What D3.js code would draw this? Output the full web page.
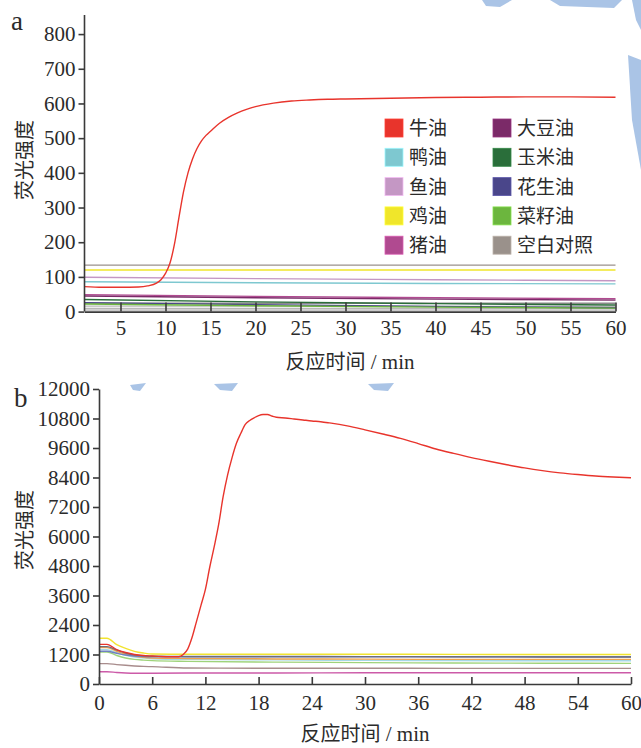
<!DOCTYPE html>
<html>
<head>
<meta charset="utf-8">
<script src="https://cdn.jsdelivr.net/npm/d3@7"></script>
<style>
  body { margin: 0; background: #fff; }
  svg text { fill: #2b2b2b; }
</style>
</head>
<body>
<svg id="chart" width="641" height="748"></svg>
<script>
// ---- data, panel a ----
const oilNames = ["牛油", "鸭油", "鱼油", "鸡油", "猪油", "大豆油", "玉米油", "花生油", "菜籽油", "空白对照"];
const oilColors = ["#e8342c", "#7ec8d0", "#c497c4", "#f0e62a", "#b04a90", "#7b2a68", "#2a6e3a", "#4a468a", "#6cb63e", "#9a918b"];

const aRedTime = [1, 3, 5, 7, 8, 9, 9.5, 10, 10.5, 11, 11.5, 12, 12.5, 13, 13.5, 14, 14.5, 15, 16, 17, 18, 19, 20, 22, 24, 26, 28, 30, 35, 40, 45, 50, 55, 60];
const aRed = [72, 70, 70, 71, 74, 82, 92, 110, 140, 195, 272, 345, 400, 440, 470, 492, 508, 520, 543, 560, 573, 583, 591, 601, 607, 610, 612, 613, 615, 617, 618, 619, 619, 618];

const aTime = [1, 20, 40, 60];
const aDuck = [86, 83, 81, 80];
const aFish = [99, 95, 92, 89];
const aChicken = [120, 120, 120, 120];
const aLard = [49, 44, 40, 37];
const aSoy = [45, 40, 36, 33];
const aCorn = [35, 28, 23, 19];
const aPeanut = [26, 20, 15, 11];
const aRape = [22, 17, 13, 10];
const aBlank = [134, 134, 134, 134];
// grey traces packed along the bottom of panel a
const aGreyLow = [[24, 24, 24, 24], [16, 16, 15, 15], [9, 9, 9, 9], [4, 4, 4, 4]];

const aTicksX = [5, 10, 15, 20, 25, 30, 35, 40, 45, 50, 55, 60];
const aTicksY = [0, 100, 200, 300, 400, 500, 600, 700, 800];

// ---- data, panel b ----
const bRedTime = [0, 0.9, 2, 3, 4, 5, 6, 7, 8, 9, 9.5, 10, 10.5, 11, 11.5, 12, 12.5, 13, 13.5, 14, 14.5, 15, 15.5, 16, 16.5, 17, 17.5, 18, 18.5, 19, 19.5, 20, 21, 22, 23, 24, 25, 26, 28, 30, 32, 34, 36, 38, 40, 42, 44, 46, 48, 50, 52, 54, 56, 58, 60];
const bRed = [1610, 1610, 1400, 1280, 1200, 1160, 1140, 1120, 1110, 1110, 1200, 1420, 1900, 2550, 3200, 3850, 4770, 5600, 6500, 7620, 8500, 9200, 9790, 10200, 10560, 10720, 10830, 10920, 10960, 10960, 10900, 10850, 10820, 10780, 10740, 10700, 10670, 10620, 10500, 10340, 10170, 9990, 9780, 9560, 9380, 9210, 9060, 8920, 8790, 8680, 8590, 8520, 8460, 8420, 8390];

const bTime = [0, 0.9, 2, 3, 4, 5, 6, 10, 20, 30, 40, 50, 60];
const bYellow = [1860, 1860, 1600, 1450, 1330, 1260, 1220, 1210, 1210, 1210, 1205, 1200, 1200];
const bSlate = [1520, 1520, 1380, 1260, 1180, 1150, 1130, 1120, 1120, 1115, 1110, 1100, 1100];
const bBlue = [1330, 1330, 1250, 1180, 1140, 1120, 1110, 1110, 1110, 1110, 1110, 1110, 1110];
const bOrange = [1480, 1480, 1330, 1220, 1140, 1090, 1060, 1040, 1020, 1010, 1000, 1000, 1000];
const bCyan = [1400, 1400, 1270, 1170, 1100, 1060, 1030, 1000, 980, 960, 950, 945, 945];
const bGreen = [1300, 1300, 1160, 1060, 1000, 970, 950, 920, 890, 870, 855, 845, 840];
const bBrown = [830, 830, 790, 760, 735, 715, 705, 650, 640, 640, 637, 637, 637];
const bMagenta = [500, 500, 470, 450, 440, 440, 440, 445, 450, 455, 458, 460, 460];
const bColors = ["#f2e430", "#6e6e7e", "#7080c0", "#f0a24e", "#a6d8e6", "#9fd37a", "#a88c8c", "#cc5aa8"];

const bTicksX = [0, 6, 12, 18, 24, 30, 36, 42, 48, 54, 60];
const bTicksY = [0, 1200, 2400, 3600, 4800, 6000, 7200, 8400, 9600, 10800, 12000];

const svg = d3.select("#chart");
const numFont = "'Liberation Serif', 'Times New Roman', serif";
const cjkFont = "'Noto Sans CJK SC', sans-serif";

// faint watermark swooshes from the scanned page
const wm = svg.append("g").attr("fill", "#aac4e6");
[
  [[482, 0], [512, 0], [500, 7], [486, 6]],
  [[550, 0], [622, 0], [614, 8], [560, 6]],
  [[628, 55], [641, 60], [641, 170], [632, 120]],
  [[632, 0], [641, 0], [641, 30], [636, 20]],
  [[130, 385], [146, 383], [140, 391], [133, 390]],
  [[214, 384], [238, 383], [232, 391], [220, 390]],
  [[368, 384], [394, 383], [388, 391], [374, 390]]
].forEach(p => wm.append("path").attr("d", d3.line()(p) + "Z"));

function xTitle(g, x, y) {
  const t = g.append("text").attr("x", x).attr("y", y).attr("text-anchor", "middle").attr("font-size", 20);
  t.append("tspan").attr("font-family", cjkFont).text("反应时间");
  t.append("tspan").attr("font-family", numFont).attr("font-size", 21).text(" / min");
}

function yTitle(g, x, y) {
  g.append("text")
    .attr("transform", `translate(${x},${y}) rotate(-90)`)
    .attr("text-anchor", "middle")
    .attr("font-family", cjkFont)
    .attr("font-size", 20)
    .text("荧光强度");
}

function styleAxis(ax) {
  ax.select(".domain").attr("stroke", "#3a3a3a").attr("stroke-width", 1.6);
  ax.selectAll(".tick line").attr("stroke", "#3a3a3a").attr("stroke-width", 1.6);
  ax.selectAll(".tick text").attr("font-family", numFont).attr("font-size", 21).attr("fill", "#2b2b2b");
}

// ---------------- panel a ----------------
const xa = d3.scaleLinear().domain([1, 60]).range([84.5, 615.5]);
const ya = d3.scaleLinear().domain([0, 855]).range([311.6, 15]);
const ga = svg.append("g");

const lineA = (ts, vs) => d3.line().x((d, i) => xa(ts[i])).y(d => ya(d)).curve(d3.curveMonotoneX)(vs);

aGreyLow.forEach((vs, k) => {
  ga.append("path").attr("d", lineA(aTime, vs)).attr("fill", "none")
    .attr("stroke", k === 0 ? "#8a8a8a" : "#b8b8b8").attr("stroke-width", 1.3);
});

const aSeries = [aRed, aDuck, aFish, aChicken, aLard, aSoy, aCorn, aPeanut, aRape, aBlank];
// draw flat ones first, red last
[9, 3, 2, 1, 4, 5, 6, 7, 8].forEach(i => {
  ga.append("path").attr("d", lineA(aTime, aSeries[i])).attr("fill", "none")
    .attr("stroke", oilColors[i]).attr("stroke-width", 1.4);
});
ga.append("path").attr("d", lineA(aRedTime, aRed)).attr("fill", "none")
  .attr("stroke", oilColors[0]).attr("stroke-width", 1.4);

const axA = ga.append("g").attr("transform", `translate(0,${ya(0)})`)
  .call(d3.axisBottom(xa).tickValues(aTicksX).tickFormat(d3.format("d")).tickSizeInner(-9).tickSizeOuter(0).tickPadding(8));
styleAxis(axA);
ga.append("line").attr("x1", xa(1)).attr("x2", xa(1)).attr("y1", ya(0)).attr("y2", 15)
  .attr("stroke", "#3a3a3a").attr("stroke-width", 1.6);
const ayA = ga.append("g").attr("transform", `translate(${xa(1)},0)`)
  .call(d3.axisLeft(ya).tickValues(aTicksY).tickFormat(d3.format("d")).tickSize(6).tickPadding(3));
ayA.select(".domain").remove();
styleAxis(ayA);

xTitle(ga, 350, 369);
yTitle(ga, 32, 160);
ga.append("text").attr("x", 11).attr("y", 30).attr("font-family", numFont).attr("font-size", 27).text("a");

// legend
const leg = ga.append("g");
oilNames.forEach((name, i) => {
  const col = Math.floor(i / 5), row = i % 5;
  const lx = col === 0 ? 385 : 493, ly = 128 + row * 29.3;
  leg.append("rect").attr("x", lx).attr("y", ly - 9).attr("width", 18).attr("height", 18)
    .attr("fill", oilColors[i]).attr("stroke", d3.color(oilColors[i]).brighter(0.6)).attr("stroke-width", 0.8);
  leg.append("text").attr("x", lx + 24).attr("y", ly + 7).attr("font-family", cjkFont)
    .attr("font-size", 19).text(name);
});

// ---------------- panel b ----------------
const xb = d3.scaleLinear().domain([0, 60]).range([99, 631]);
const yb = d3.scaleLinear().domain([0, 12000]).range([684, 389]);
const gb = svg.append("g");

const lineB = (ts, vs) => d3.line().x((d, i) => xb(ts[i])).y(d => yb(d)).curve(d3.curveMonotoneX)(vs);

const bSeries = [bMagenta, bBrown, bGreen, bCyan, bOrange, bBlue, bSlate, bYellow];
const bSeriesColors = [bColors[7], bColors[6], bColors[5], bColors[4], bColors[3], bColors[2], bColors[1], bColors[0]];
bSeries.forEach((vs, i) => {
  gb.append("path").attr("d", lineB(bTime, vs)).attr("fill", "none")
    .attr("stroke", bSeriesColors[i]).attr("stroke-width", 1.4);
});
gb.append("path").attr("d", lineB(bRedTime, bRed)).attr("fill", "none")
  .attr("stroke", "#e8342c").attr("stroke-width", 1.4);

const axB = gb.append("g").attr("transform", `translate(0,${yb(0)})`)
  .call(d3.axisBottom(xb).tickValues(bTicksX).tickFormat(d3.format("d")).tickSizeInner(-7).tickSizeOuter(0).tickPadding(11));
styleAxis(axB);
const ayB = gb.append("g").attr("transform", `translate(${xb(0)},0)`)
  .call(d3.axisLeft(yb).tickValues(bTicksY).tickFormat(d3.format("d")).tickSize(6).tickPadding(3).tickSizeOuter(0));
styleAxis(ayB);

xTitle(gb, 365, 741);
yTitle(gb, 32, 530);
gb.append("text").attr("x", 14).attr("y", 407).attr("font-family", numFont).attr("font-size", 27).text("b");
</script>
</body>
</html>
